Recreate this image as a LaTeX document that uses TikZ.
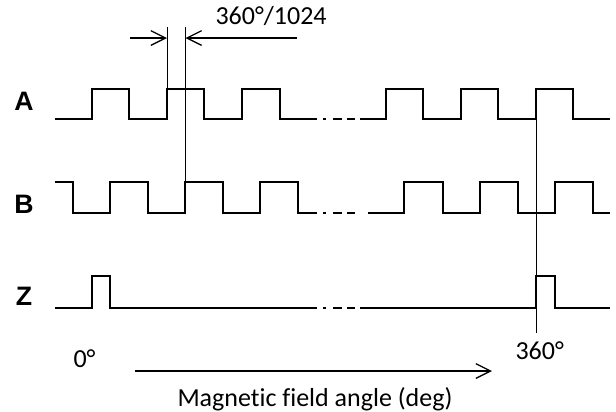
\documentclass[tikz,border=0pt]{standalone}
\usepackage{fontspec}
\setmainfont{Carlito}[Ligatures=NoCommon]
\newfontfamily\labelfont{Liberation Sans}
\usetikzlibrary{arrows.meta}

\tikzset{every picture/.style={line width=0.75pt}}
\tikzset{
	signal/.style={line width=1.5pt, line join=miter},
	marker/.style={line width=0.6pt},
	dimarrow/.style={line width=1pt, -{Straight Barb[length=11pt,width=11pt,line width=1pt]}},
	chlabel/.style={inner sep=0pt, font=\labelfont\bfseries\fontsize{20}{24}\selectfont},
	txt/.style={inner sep=0pt, font=\fontsize{19.5}{23}\selectfont}
}

\begin{document}
\begin{tikzpicture}[x=0.75pt,y=0.75pt,yscale=-1,xscale=1]
	\useasboundingbox (0,0) rectangle (616,411);
	
	% Text Node
	\node [chlabel] (labA) at (24,101) {A};
	% Text Node
	\node [chlabel] (labB) at (24,204) {B};
	% Text Node
	\node [chlabel] (labZ) at (24,296) {Z};
	
	%Signal A
	\draw [signal] (55,119) -- (92,119) -- (92,89) -- (129,89) -- (129,119) -- (167,119) -- (167,89) -- (204,89) -- (204,119) -- (242,119) -- (242,89) -- (280,89) -- (280,119) -- (317,119) ;
	\draw [signal] (360,119) -- (386,119) -- (386,89) -- (423,89) -- (423,119) -- (461,119) -- (461,89) -- (498,89) -- (498,119) -- (536,119) -- (536,89) -- (573,89) -- (573,119) -- (610,119) ;
	%Signal B
	\draw [signal] (55,182) -- (73,182) -- (73,213) -- (110,213) -- (110,182) -- (148,182) -- (148,213) -- (185,213) -- (185,182) -- (223,182) -- (223,213) -- (260,213) -- (260,182) -- (298,182) -- (298,213) -- (317,213) ;
	\draw [signal] (368,213) -- (404,213) -- (404,182) -- (443,182) -- (443,213) -- (480,213) -- (480,182) -- (518,182) -- (518,213) -- (555,213) -- (555,182) -- (593,182) -- (593,213) -- (610,213) ;
	%Signal Z
	\draw [signal] (55,308) -- (92,308) -- (92,276) -- (110,276) -- (110,308) -- (317,308) ;
	\draw [signal] (360,308) -- (536,308) -- (536,276) -- (555,276) -- (555,308) -- (610,308) ;
	
	%Gaps
	\foreach \y in {119,213,308} {
		\draw [signal] (323,\y) -- (326,\y) (333,\y) -- (342,\y) (347,\y) -- (355,\y) ;
	}
	
	%Marker lines
	\coordinate (m1top) at (167,27);
	\coordinate (m1bot) at (167,89);
	\coordinate (m2top) at (185.5,27);
	\coordinate (m2bot) at (185.5,182);
	\coordinate (m3top) at (536,89);
	\coordinate (m3bot) at (536,333);
	\draw [marker] (m1top) -- (m1bot) ;
	\draw [marker] (m2top) -- (m2bot) ;
	\draw [marker] (m3top) -- (m3bot) ;
	
	%Dimension arrows
	\coordinate (dl) at (130,38);
	\coordinate (dr) at (297,38);
	\draw [dimarrow] (dl) -- (dl -| m1top) ;
	\draw [dimarrow] (dr) -- (dr -| m2top) ;
	% Text Node
	\node [txt, anchor=base west] (pitch) at (215,24) {360°/1024};
	
	%Angle axis
	\coordinate (ax0) at (135,371);
	\coordinate (ax1) at (492,371);
	\draw [dimarrow] (ax0) -- (ax1) ;
	% Text Node
	\node [txt, anchor=base west] (deg0) at (73,367) {0°};
	% Text Node
	\node [txt, anchor=base west] (deg360) at (515,359) {360°};
	% Text Node
	\node [txt, anchor=base west] (axis) at (177,406) {Magnetic field angle (deg)};
	
\end{tikzpicture}
\end{document}
